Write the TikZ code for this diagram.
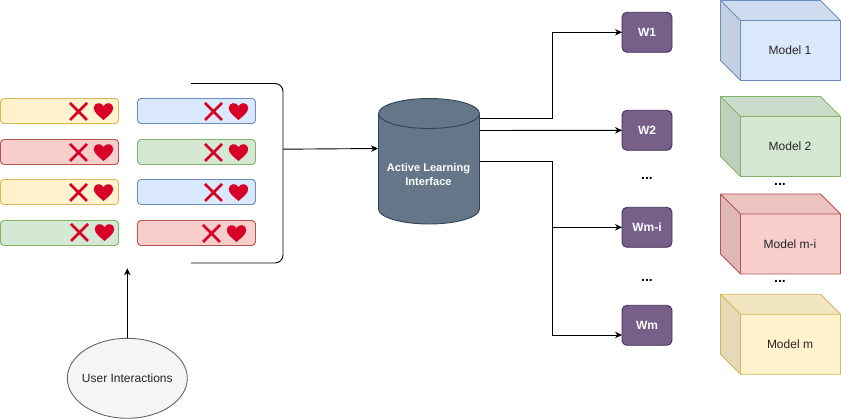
\documentclass[tikz,border=0pt]{standalone}
\usepackage{fontspec}
\setmainfont{Liberation Sans}
\usetikzlibrary{arrows.meta,calc,shapes.geometric}
\definecolor{yf}{HTML}{FFF2CC}\definecolor{ys}{HTML}{D6B656}
\definecolor{rf}{HTML}{F8CECC}\definecolor{rs}{HTML}{B85450}
\definecolor{bf}{HTML}{DAE8FC}\definecolor{bs}{HTML}{6C8EBF}
\definecolor{gf}{HTML}{D5E8D4}\definecolor{gs}{HTML}{82B366}
\definecolor{pf}{HTML}{76608A}\definecolor{ps}{HTML}{432D57}
\definecolor{cf}{HTML}{647687}\definecolor{cs}{HTML}{314354}
\definecolor{mk}{HTML}{D80027}
\definecolor{ef}{HTML}{F5F5F5}\definecolor{es}{HTML}{666666}
\tikzset{
 x=1pt,y=-1pt,
 line width=1pt,
 conn/.style={draw=black,-{Stealth[length=7pt,width=6.5pt]},line width=0.9pt},
 plainline/.style={draw=black,line width=0.9pt},
 rowbox/.style={rounded corners=3.5pt,line width=0.9pt,minimum width=118pt,minimum height=25pt,inner sep=0pt,outer sep=0pt,draw=#1s,fill=#1f},
 wbox/.style={rounded corners=5pt,line width=0.9pt,draw=ps,fill=pf,text=white,font=\bfseries\fontsize{12}{14}\selectfont,minimum width=50pt,minimum height=40pt,inner sep=0pt,outer sep=0pt},
 dots/.style={font=\bfseries\fontsize{14}{14}\selectfont,inner sep=0pt,anchor=base},
 cubetext/.style={font=\fontsize{12}{14}\selectfont,text=black!85,inner sep=0pt},
 shade1/.style={fill=black,fill opacity=.05},
 shade2/.style={fill=black,fill opacity=.10},
 pics/xheart/.style={code={
   \draw[mk,line width=2.6pt] (-8.5,-8.5)--(8.5,8.5) (-8.5,8.5)--(8.5,-8.5);
   \fill[mk] (25,8.5) .. controls (20,4) and (15.3,1) .. (15.3,-3.5)
     .. controls (15.3,-9) and (22.5,-10) .. (25,-5.5)
     .. controls (27.5,-10) and (34.7,-9) .. (34.7,-3.5)
     .. controls (34.7,1) and (30,4) .. (25,8.5) -- cycle;
 }},
}
\newcommand{\cubeshape}[4]{% name, colour, top y, label
  \path[fill=#2f] (720.5,#3) -- (820.5,#3) -- (840.5,#3+20) -- (840.5,#3+80) -- (740.5,#3+80) -- (720.5,#3+60) -- cycle;
  \path[shade1] (720.5,#3) -- (820.5,#3) -- (840.5,#3+20) -- (740.5,#3+20) -- cycle;
  \path[shade2] (720.5,#3) -- (740.5,#3+20) -- (740.5,#3+80) -- (720.5,#3+60) -- cycle;
  \draw[#2s,line width=.9pt,line join=round] (720.5,#3) -- (820.5,#3) -- (840.5,#3+20) -- (840.5,#3+80) -- (740.5,#3+80) -- (720.5,#3+60) -- cycle
     (720.5,#3) -- (740.5,#3+20) -- (840.5,#3+20) (740.5,#3+20) -- (740.5,#3+80);
  \node[cubetext] (#1) at (790,#3+50) {#4};
}
\begin{document}
\begin{tikzpicture}
\useasboundingbox (0,0) rectangle (841,419);
% row boxes
\node[rowbox=y] (a1) at (59.5,111) {}; \pic at (78.5,111.5) {xheart};
\node[rowbox=r] (a2) at (59.5,152) {}; \pic at (78.5,152.5) {xheart};
\node[rowbox=y] (a3) at (59.5,192) {}; \pic at (78.5,192.5) {xheart};
\node[rowbox=g] (a4) at (59.5,233) {}; \pic at (79.5,232.5) {xheart};
\node[rowbox=b] (b1) at (196.5,111) {}; \pic at (213.5,111.5) {xheart};
\node[rowbox=g] (b2) at (196.5,152) {}; \pic at (213.5,152.5) {xheart};
\node[rowbox=b] (b3) at (196.5,192) {}; \pic at (213.5,192.5) {xheart};
\node[rowbox=r] (b4) at (196.5,233) {}; \pic at (211.5,233.5) {xheart};
% bracket
\coordinate (brT) at (191,83.5);
\coordinate (brB) at (191,263);
\coordinate (brM) at (283,149.2);
\draw[plainline,rounded corners=8pt] (brT) -- (283,83.5) -- (283,263) -- (brB);
% cylinder
\path[draw=cs,fill=cf,line width=.9pt] (378.5,113.5) arc[start angle=180,end angle=360,x radius=50.5,y radius=15] -- (479.5,209) arc[start angle=0,end angle=180,x radius=50.5,y radius=15] -- cycle;
\draw[cs,line width=.9pt] (378.5,113.5) arc[start angle=180,end angle=0,x radius=50.5,y radius=15];
\node[inner sep=0pt,text=white,font=\bfseries\fontsize{11.1}{14}\selectfont,align=center] (db) at (428.5,175) {Active Learning\\Interface};
\coordinate (dbIn) at (378,148.5);
\coordinate (dbO1) at (479.5,118.5);
\coordinate (dbO2) at (479.5,130.5);
\coordinate (dbO3) at (479.5,161);
% W boxes
\node[wbox] (w1) at (647,32.3) {W1};
\node[wbox] (w2) at (647,130.3) {W2};
\node[wbox] (w3) at (647,227.3) {Wm-i};
\node[wbox] (w4) at (647,325.3) {Wm};
\coordinate (w4in) at (622,335);
\node[dots] at (647,180) {...};
\node[dots] at (647,282) {...};
\node[dots] at (780,185.5) {...};
\node[dots] at (780,282.5) {...};
% connectors
\coordinate (j1) at (552.5,32.3);
\coordinate (j3) at (552,227.3);
\draw[conn] (brM) -- (dbIn);
\draw[conn] (dbO1) -| (j1) -- (w1.west);
\draw[conn] (dbO2) -- (w2.west);
\draw[conn] (dbO3) -| (j3) -- (w3.west);
\draw[conn] (j3) |- (w4in);
% cubes
\cubeshape{m1}{b}{0.5}{Model 1}
\cubeshape{m2}{g}{96.5}{Model 2}
\cubeshape{m3}{r}{194}{Model m-i}
\cubeshape{m4}{y}{294.3}{Model m}
% user
\node[ellipse,draw=es,fill=ef,line width=.9pt,minimum width=120pt,minimum height=80pt,inner sep=0pt,outer sep=0pt,label={[cubetext]center:User Interactions}] (user) at (127.3,378.3) {};
\coordinate (brIn) at (127.3,268.3);
\draw[conn] (user.north) -- (brIn);
\end{tikzpicture}
\end{document}
